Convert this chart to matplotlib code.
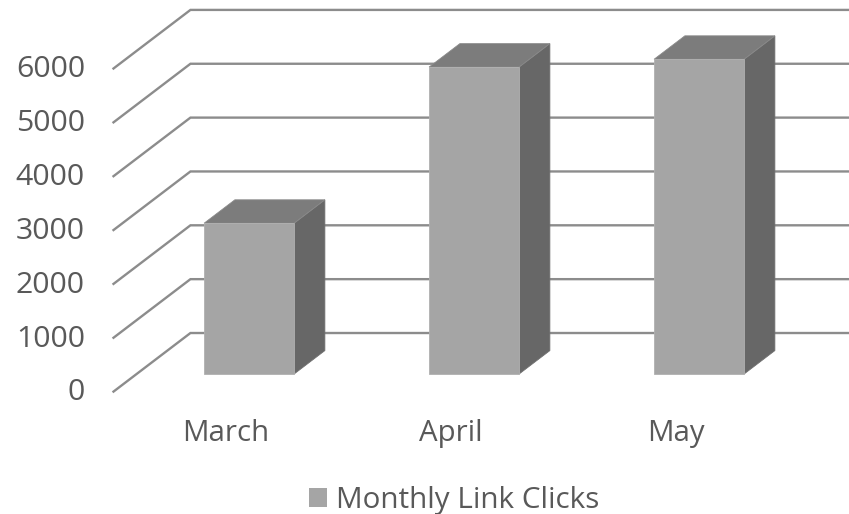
import matplotlib.pyplot as plt
from matplotlib.patches import Patch, Polygon

months = ["March", "April", "May"]
clicks = [2800, 5700, 5845]
value_ticks = [0, 1000, 2000, 3000, 4000, 5000, 6000]
series_name = "Monthly Link Clicks"

""" 3D look: one unit of depth moves a point right and up """
depth_x = 0.342
depth_y = 1088
bar_half = 0.2
bar_front = 0.3
bar_back = 0.7

text_col = "#595959"
plt.rcParams["font.family"] = ["Open Sans", "DejaVu Sans"]


def project(x, v, d):  # move a point back by depth d
    return (x + d * depth_x, v + d * depth_y)


fig = plt.figure(figsize=(8.49, 5.14), dpi=100)
ax = fig.add_axes([0, 0, 1, 1])
ax.set_xlim(-226 / 225, 623 / 225)
ax.set_ylim(-2273, 7272)
ax.axis("off")

# gridlines run along the floor/side wall, then along the back wall
left = -0.5
right = 2.5
for v in value_ticks:
    pts = [project(left, v, 0), project(left, v, 1), project(right, v, 1)]
    ax.plot([p[0] for p in pts], [p[1] for p in pts], color="#8C8C8C", lw=1.7,
            solid_joinstyle="miter", zorder=1)
    ax.text(left - 0.127, v - 25, str(v), ha="right", va="center", fontsize=21.8, color=text_col)

for i, (m, c) in enumerate(zip(months, clicks)):
    x0 = i - bar_half
    x1 = i + bar_half
    front = [project(x0, 0, bar_front), project(x1, 0, bar_front),
             project(x1, c, bar_front), project(x0, c, bar_front)]
    side = [project(x1, 0, bar_front), project(x1, 0, bar_back),
            project(x1, c, bar_back), project(x1, c, bar_front)]
    top = [project(x0, c, bar_front), project(x1, c, bar_front),
           project(x1, c, bar_back), project(x0, c, bar_back)]
    ax.add_patch(Polygon(side, facecolor="#676767", edgecolor="#707070", lw=0.6, zorder=2))
    ax.add_patch(Polygon(top, facecolor="#7C7C7C", edgecolor="#8A8A8A", lw=0.6, zorder=2))
    ax.add_patch(Polygon(front, facecolor="#A5A5A5", edgecolor="#B0B0B0", lw=0.6, zorder=3))
    ax.text(i, -780, m, ha="center", va="center", fontsize=21.2, color=text_col)

handle = Patch(facecolor="#A5A5A5", edgecolor="none", label=series_name)
ax.legend(handles=[handle], loc="center", bbox_to_anchor=(0.535, 0.027), frameon=False,
          fontsize=21.3, labelcolor=text_col, handlelength=0.61, handleheight=0.61,
          handletextpad=0.33, borderpad=0, borderaxespad=0)

fig.savefig("out.png", dpi=100)
